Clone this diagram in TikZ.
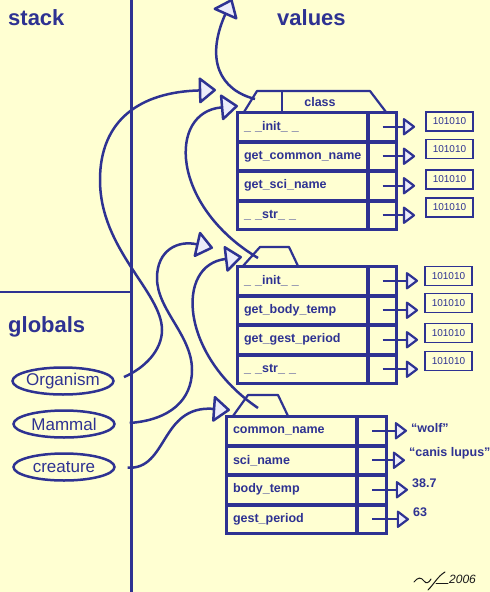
\documentclass[tikz,border=0pt]{standalone}
\usepackage{fontspec}
\setmainfont{Liberation Sans}
\usetikzlibrary{arrows.meta,shapes.geometric}
\definecolor{ink}{RGB}{46,50,146}
\definecolor{paper}{RGB}{255,255,210}
\definecolor{tipfill}{RGB}{236,236,250}
\definecolor{sigink}{RGB}{25,25,25}
\tikzset{
  bigtip/.style={-{Triangle[length=18pt,width=28pt,fill=tipfill,line join=round]}},
  ptrtip/.style={-{Triangle[length=13pt,width=19pt,fill=tipfill,line join=round]}},
  link/.style={draw=ink, line width=2.5pt, bigtip},
  ptrline/.style={draw=ink, line width=2.2pt, ptrtip},
  fieldcell/.style={draw=ink, line width=2pt, anchor=north west, minimum height=27.5pt,
    text width=117pt, inner xsep=6pt, inner ysep=0pt, align=left,
    font=\bfseries\fontsize{12.5}{14}\selectfont, text=ink},
  ptrcell/.style={draw=ink, line width=2pt, anchor=north west, minimum height=27.5pt,
    minimum width=27pt, inner sep=0pt},
  outerbox/.style={draw=ink, line width=2.6pt},
  tabline/.style={draw=ink, line width=2.2pt, line join=round},
  tablabel/.style={inner sep=0pt, font=\bfseries\fontsize{12.5}{14}\selectfont, text=ink},
  valbox/.style={draw=ink, line width=1.8pt, minimum width=47pt, minimum height=19pt,
    inner sep=0pt, font=\fontsize{10}{12}\selectfont, text=ink},
  valtext/.style={anchor=west, inner sep=0pt, font=\bfseries\fontsize{12.5}{14}\selectfont, text=ink},
  globalname/.style={ellipse, draw=ink, line width=2.5pt, minimum width=101pt, minimum height=27pt,
    inner xsep=-8pt, inner ysep=0pt, font=\fontsize{17}{20}\selectfont, text=ink},
  heading/.style={anchor=base west, inner sep=0pt, font=\bfseries\fontsize{22}{26}\selectfont, text=ink},
  sigline/.style={draw=sigink, line width=1pt, line cap=round},
}
\begin{document}
\begin{tikzpicture}[x=1pt,y=-1pt]
\path[fill=paper] (0,0) rectangle (490,592);
\useasboundingbox (0,0) rectangle (490,592);

% headings
\node[heading] (hstack) at (8,25) {stack};
\node[heading] (hvalues) at (277,25) {values};
\node[heading] (hglobals) at (8,332) {globals};

% stack divider lines
\draw[ink, line width=3pt] (131,0) -- (131,592);
\draw[ink, line width=2.6pt] (0,292) -- (131,292);

% ---------- box 1 (class Organism)
\node[fieldcell] (b1r1) at (237,112) {\_ \_init\_ \_};
\node[fieldcell] (b1r2) at (b1r1.south west) {get\_common\_name};
\node[fieldcell] (b1r3) at (b1r2.south west) {get\_sci\_name};
\node[fieldcell] (b1r4) at (b1r3.south west) {\_ \_str\_ \_};
\foreach \i in {1,...,4}{\node[ptrcell] (b1p\i) at (b1r\i.north east) {};}
\draw[outerbox] (b1r1.north west) rectangle (b1p4.south east);
\draw[tabline] (244,112) -- (257,91) -- (370,91) -- (386,112);
\draw[tabline] (282,91) -- (282,112);
\node[tablabel] (cls) at (320,102) {class};
\node[valbox] (b1v1) at (449.5,121.5) {101010};
\node[valbox] (b1v2) at (449.5,149) {101010};
\node[valbox] (b1v3) at (449.5,179.5) {101010};
\node[valbox] (b1v4) at (449.5,207.5) {101010};
\foreach \i in {1,...,4}{\draw[ptrline, shorten >=10pt] (b1p\i.center) -- (b1p\i.center -| b1v\i.west);}

% ---------- box 2 (class Mammal)
\node[fieldcell] (b2r1) at (237,266) {\_ \_init\_ \_};
\node[fieldcell] (b2r2) at (b2r1.south west) {get\_body\_temp};
\node[fieldcell] (b2r3) at (b2r2.south west) {get\_gest\_period};
\node[fieldcell] (b2r4) at (b2r3.south west) {\_ \_str\_ \_};
\foreach \i in {1,...,4}{\node[ptrcell] (b2p\i) at (b2r\i.north east) {};}
\draw[outerbox] (b2r1.north west) rectangle (b2p4.south east);
\draw[tabline] (243,266) -- (260,247) -- (289,247) -- (298,266);
\node[valbox] (b2v1) at (448.5,276) {101010};
\node[valbox] (b2v2) at (448.5,303) {101010};
\node[valbox] (b2v3) at (448.5,333) {101010};
\node[valbox] (b2v4) at (448.5,361) {101010};
\foreach \i in {1,...,4}{\draw[ptrline, shorten >=6pt] (b2p\i.center) -- (b2p\i.center -| b2v\i.west);}

% ---------- box 3 (instance)
\node[fieldcell] (b3r1) at (226,416) {common\_name};
\node[fieldcell] (b3r2) at (b3r1.south west) {sci\_name};
\node[fieldcell] (b3r3) at (b3r2.south west) {body\_temp};
\node[fieldcell] (b3r4) at (b3r3.south west) {gest\_period};
\foreach \i in {1,...,4}{\node[ptrcell, minimum width=28pt] (b3p\i) at (b3r\i.north east) {};}
\draw[outerbox] (b3r1.north west) rectangle (b3p4.south east);
\draw[tabline] (233,416) -- (248,395) -- (278,395) -- (288,416);
\node[valtext] (b3v1) at (411,428) {“wolf”};
\node[valtext] (b3v2) at (409,453) {“canis lupus”};
\node[valtext] (b3v3) at (412,483) {38.7};
\node[valtext] (b3v4) at (413,512) {63};
\foreach \i in {1,...,4}{\draw[ptrline, shorten >=4pt] (b3p\i.center) -- (b3p\i.center -| b3v\i.west);}

% ---------- globals
\node[globalname] (org) at (63,381) {Organism};
\node[globalname] (mam) at (64,424) {Mammal};
\node[globalname] (cre) at (64,467) {creature};

% ---------- reference curves
\coordinate (b1hook) at (255,99);
\coordinate (b2hook) at (258,258);
\coordinate (b3hook) at (258,408);
\coordinate (tipA) at (216,90);
\coordinate (tipB) at (232,-1);
\coordinate (tipC) at (238,106);
\coordinate (tipD) at (213,248);
\coordinate (tipE) at (242,257);
\coordinate (tipF) at (230,410);

\draw[link, shorten <=10pt] (org.east) .. controls (145,368) and (162,350) .. (162,330)
   .. controls (162,292) and (100,250) .. (100,180)
   .. controls (100,120) and (140,92) .. (tipA);
\draw[link] (b1hook) .. controls (220,90) and (205,60) .. (tipB);
\draw[link] (b2hook) .. controls (170,205) and (168,112) .. (tipC);
\draw[link, shorten <=14pt] (mam.east) .. controls (170,420) and (192,400) .. (192,370)
   .. controls (192,335) and (157,310) .. (157,278)
   .. controls (157,250) and (178,240) .. (tipD);
\draw[link] (b3hook) .. controls (180,355) and (175,265) .. (tipE);
\draw[link, shorten <=12pt] (cre.east) .. controls (168,470) and (160,405) .. (tipF);

% ---------- signature
\draw[sigline] (414,582) .. controls (418,577) and (421,577) .. (424,581) .. controls (426,584) and (429,583) .. (431,579);
\draw[sigline] (445,572) .. controls (438,576) and (434,584) .. (428,590);
\draw[sigline] (436,583) -- (448,583);
\node[anchor=base west, inner sep=0pt, text=sigink, font=\itshape\fontsize{12}{14}\selectfont] (sigyear) at (449,583) {2006};
\end{tikzpicture}
\end{document}
